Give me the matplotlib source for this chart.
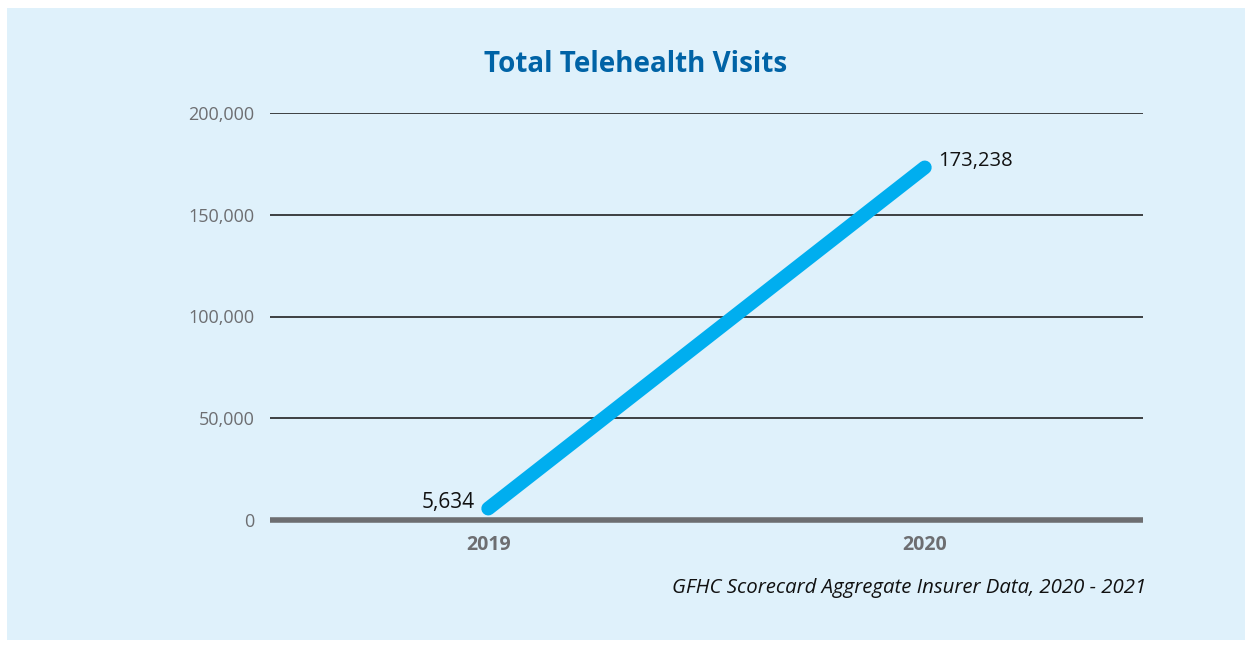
import matplotlib
matplotlib.use("Agg")
import matplotlib.pyplot as plt
from matplotlib.patches import Rectangle

years = ["2019", "2020"]
visits = [5634, 173238]
value_labels = ["5,634", "173,238"]
yticks = [0, 50000, 100000, 150000, 200000]
ytick_labels = ["0", "50,000", "100,000", "150,000", "200,000"]
title = "Total Telehealth Visits"
source = "GFHC Scorecard Aggregate Insurer Data, 2020 - 2021"

W, H = 1252, 645
fig = plt.figure(figsize=(W / 100, H / 100), dpi=100)
fig.patch.set_facecolor("white")
fig.patches.append(Rectangle((7 / W, 1 - 640 / H), (1245 - 7) / W, (640 - 8) / H,
                             transform=fig.transFigure, facecolor="#dff1fb",
                             edgecolor="none", zorder=-10))

font = "Open Sans"
gray = "#6d6e71"

ax = fig.add_axes([270 / W, 1 - 520 / H, (1143 - 270) / W, (520 - 113) / H])
ax.set_zorder(5)
ax.set_facecolor("none")
x = list(range(len(years)))
ax.set_xlim(-0.5, 1.5)
ax.set_ylim(0, 200000)
for t in yticks[1:]:
    ax.axhline(t, color="#222222", lw=1.2, zorder=1)
ax.axhline(0, color=gray, lw=4, zorder=2, clip_on=False, solid_capstyle="butt")
ax.plot(x, visits, color="#00aeef", lw=10, solid_capstyle="round", zorder=3)

for s in ax.spines.values():
    s.set_visible(False)
ax.set_yticks(yticks)
ax.set_yticklabels(ytick_labels, fontsize=13, color=gray, family=font)
ax.set_xticks(x)
ax.set_xticklabels(years, fontsize=14, color=gray, family=font, fontweight="bold")
ax.tick_params(axis="y", length=0, pad=11)
ax.tick_params(axis="x", length=0, pad=11)

ax.annotate(value_labels[0], (x[0], visits[0]), xytext=(-10, 4), textcoords="offset points",
            ha="right", va="center", fontsize=15, color="#111111", family=font)
ax.annotate(value_labels[1], (x[1], visits[1]), xytext=(10, 5), textcoords="offset points",
            ha="left", va="center", fontsize=14.5, color="#111111", family=font)

fig.text(636 / W, 1 - 64 / H, title, ha="center", va="center", fontsize=20,
         fontweight="bold", color="#0063a6", family=font)
fig.text(1146 / W, 1 - 588 / H, source, ha="right", va="center", fontsize=14.7,
         style="italic", color="#111111", family=font)

fig.savefig("out.png", dpi=100, facecolor=fig.get_facecolor())
